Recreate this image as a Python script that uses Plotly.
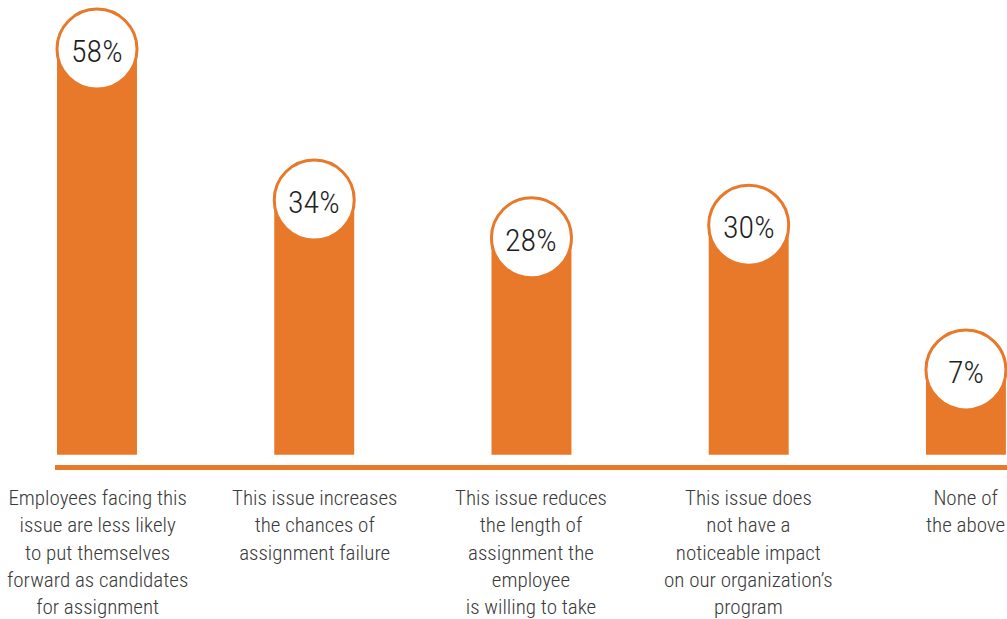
import plotly.graph_objects as go

# Survey responses: impact of the issue on assignment programs
categories = [
    "Employees facing this<br>issue are less likely<br>to put themselves<br>forward as candidates<br>for assignment",
    "This issue increases<br>the chances of<br>assignment failure",
    "This issue reduces<br>the length of<br>assignment the<br>employee<br>is willing to take",
    "This issue does<br>not have a<br>noticeable impact<br>on our organization’s<br>program",
    "None of<br>the above",
]
values = [58, 34, 28, 30, 7]
value_labels = ["58%", "34%", "28%", "30%", "7%"]

ORANGE = "#E8782A"
TEXT = "#3a3a3a"
FONT = "Roboto Condensed, Roboto, sans-serif"

x = list(range(len(values)))
bar_base = -6.5      # bars drop down to the baseline rule
rule_y = -8.5        # orange rule under the bars

fig = go.Figure()

fig.add_trace(go.Bar(
    x=x,
    y=[v - bar_base for v in values],
    base=bar_base,
    width=0.368,
    marker=dict(color=ORANGE, line=dict(width=0)),
    hoverinfo="skip",
))

# white discs sitting on top of each bar
fig.add_trace(go.Scatter(
    x=x,
    y=values,
    mode="markers",
    marker=dict(size=80, color="white", line=dict(color=ORANGE, width=3)),
    hoverinfo="skip",
))

# percentage inside each disc
for xi, v, lab in zip(x, values, value_labels):
    fig.add_annotation(
        x=xi, y=v, xref="x", yref="y", text=lab, showarrow=False,
        xanchor="center", yanchor="middle", yshift=-2,
        font=dict(family=FONT, size=32, color="#1e1e1e", weight=300),
    )

fig.add_shape(
    type="line", xref="paper", yref="y",
    x0=55 / 1007, x1=1, y0=rule_y, y1=rule_y,
    line=dict(color=ORANGE, width=5),
)

for xi, cat in zip(x, categories):
    fig.add_annotation(
        x=xi, y=-11.2, xref="x", yref="y",
        text=cat, showarrow=False,
        xanchor="center", yanchor="top", align="center",
        font=dict(family=FONT, size=21, color=TEXT, weight=300),
    )

fig.update_layout(
    width=1007, height=619,
    margin=dict(l=0, r=0, t=0, b=0),
    paper_bgcolor="white", plot_bgcolor="white",
    showlegend=False,
    xaxis=dict(range=[-0.4465, 4.189], visible=False, fixedrange=True),
    yaxis=dict(range=[-32.6, 65.8], visible=False, fixedrange=True),
)

fig.write_html("out.html")
